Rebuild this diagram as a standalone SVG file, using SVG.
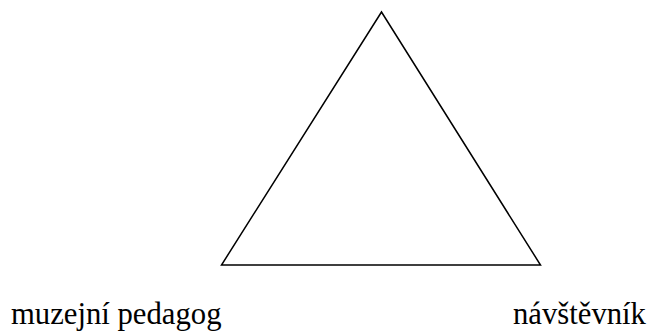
<svg xmlns="http://www.w3.org/2000/svg" width="651" height="331" viewBox="0 0 651 331">
<style>
.edge{fill:none;stroke:#000;stroke-width:1.5;stroke-linejoin:miter}
.lbl{font-family:"Liberation Serif","Times New Roman",serif;font-size:30.7px;fill:#000}
</style>
<rect width="651" height="331" fill="#fff"/>
<g id="connectors">
<polygon class="edge" points="381.5,12 221.5,265 540.5,265"/>
</g>
<g id="node-pedagog"><text class="lbl" x="11" y="324">muzejní pedagog</text></g>
<g id="node-navstevnik"><text class="lbl" x="513" y="324">návštěvník</text></g>
</svg>
